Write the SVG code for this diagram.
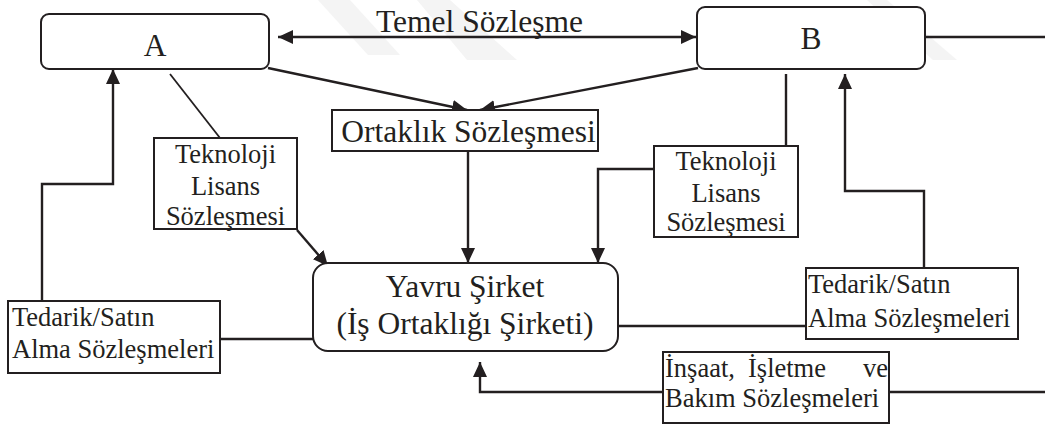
<svg xmlns="http://www.w3.org/2000/svg" width="1045" height="426" viewBox="0 0 1045 426">
  <defs>
    <style>
      .box { fill: #ffffff; stroke: #231f20; stroke-width: 2; }
      .wire { fill: none; stroke: #231f20; stroke-width: 2.4; }
      .thin { fill: none; stroke: #231f20; stroke-width: 1.8; }
      .lbl { font-family: "Liberation Serif", "Times New Roman", serif; fill: #231f20; }
      .big { font-size: 31.5px; }
      .small { font-size: 26.5px; }
      .mid { text-anchor: middle; }
      .band { fill: #f4f4f4; }
    </style>
    <marker id="head" viewBox="0 0 15 14" markerWidth="15" markerHeight="14" markerUnits="userSpaceOnUse" refX="15" refY="7" orient="auto-start-reverse">
      <path d="M0,0 L15,7 L0,14 z" fill="#231f20"/>
    </marker>
  </defs>

  <rect width="1045" height="426" fill="#ffffff"/>

  <!-- faint background bands -->
  <g id="backdrop">
    <polygon class="band" points="318,0 350,0 400,55 368,55"/>
    <polygon class="band" points="417,0 450,0 517,60 467,60"/>
    <polygon class="band" points="867,0 887,0 957,60 933,60"/>
  </g>

  <!-- connectors -->
  <g id="connectors">
    <line class="wire" x1="278" y1="37" x2="696" y2="37" marker-start="url(#head)" marker-end="url(#head)"/>
    <line class="wire" x1="268" y1="68" x2="467" y2="110" marker-end="url(#head)"/>
    <line class="wire" x1="698" y1="68" x2="480" y2="110" marker-end="url(#head)"/>
    <line class="wire" x1="468" y1="152" x2="468" y2="263" marker-end="url(#head)"/>
    <line class="thin" x1="170" y1="74" x2="220" y2="138"/>
    <line class="wire" x1="297" y1="230" x2="328" y2="266" marker-end="url(#head)"/>
    <line class="wire" x1="786" y1="74" x2="786" y2="146"/>
    <polyline class="wire" points="654,169 598,169 598,263" marker-end="url(#head)"/>
    <polyline class="wire" points="924,268 924,191 845,191 845,74" marker-end="url(#head)"/>
    <polyline class="wire" points="42,301 42,184 113,184 113,69" marker-end="url(#head)"/>
    <line class="wire" x1="220" y1="339" x2="313" y2="339"/>
    <line class="wire" x1="618" y1="326" x2="806" y2="326"/>
    <polyline class="wire" points="663,392 480,392 480,362" marker-end="url(#head)"/>
    <line class="wire" x1="889" y1="392" x2="1045" y2="392"/>
    <line class="wire" x1="925" y1="37" x2="1045" y2="37"/>
    <text class="lbl big mid" x="479.5" y="32">Temel Sözleşme</text>
  </g>

  <g id="node-a">
    <rect class="box" x="41" y="14" width="228" height="55" rx="8"/>
    <text class="lbl big mid" x="155" y="56">A</text>
  </g>

  <g id="node-b">
    <rect class="box" x="697" y="7" width="228" height="62" rx="8"/>
    <text class="lbl big mid" x="811" y="49">B</text>
  </g>

  <g id="node-ortaklik">
    <rect class="box" x="332" y="110" width="266" height="41"/>
    <text class="lbl big mid" x="468.5" y="142">Ortaklık Sözleşmesi</text>
  </g>

  <g id="node-yavru">
    <rect class="box" x="313" y="263" width="305" height="88" rx="15"/>
    <text class="lbl big mid" x="465" y="297">Yavru Şirket</text>
    <text class="lbl big mid" x="465" y="334">(İş Ortaklığı Şirketi)</text>
  </g>

  <g id="node-teknoloji-a">
    <rect class="box" x="154" y="138" width="143" height="91"/>
    <text class="lbl small mid" x="225.5" y="163">Teknoloji</text>
    <text class="lbl small mid" x="225.5" y="195">Lisans</text>
    <text class="lbl small mid" x="225.5" y="225">Sözleşmesi</text>
  </g>

  <g id="node-teknoloji-b">
    <rect class="box" x="654" y="146" width="144" height="91"/>
    <text class="lbl small mid" x="726" y="170">Teknoloji</text>
    <text class="lbl small mid" x="726" y="202">Lisans</text>
    <text class="lbl small mid" x="726" y="231">Sözleşmesi</text>
  </g>

  <g id="node-tedarik-a">
    <rect class="box" x="8" y="301" width="212" height="72"/>
    <text class="lbl small" x="12" y="326">Tedarik/Satın</text>
    <text class="lbl small" x="12" y="358">Alma Sözleşmeleri</text>
  </g>

  <g id="node-tedarik-b">
    <rect class="box" x="806" y="268" width="212" height="71"/>
    <text class="lbl small" x="808" y="293">Tedarik/Satın</text>
    <text class="lbl small" x="808" y="327">Alma Sözleşmeleri</text>
  </g>

  <g id="node-insaat">
    <rect class="box" x="663" y="352" width="226" height="71"/>
    <!-- first line is justified across the box -->
    <text class="lbl small" x="665" y="377">İnşaat,</text>
    <text class="lbl small" x="748" y="377">İşletme</text>
    <text class="lbl small" text-anchor="end" x="888" y="377">ve</text>
    <text class="lbl small" x="665" y="407">Bakım Sözleşmeleri</text>
  </g>
</svg>
